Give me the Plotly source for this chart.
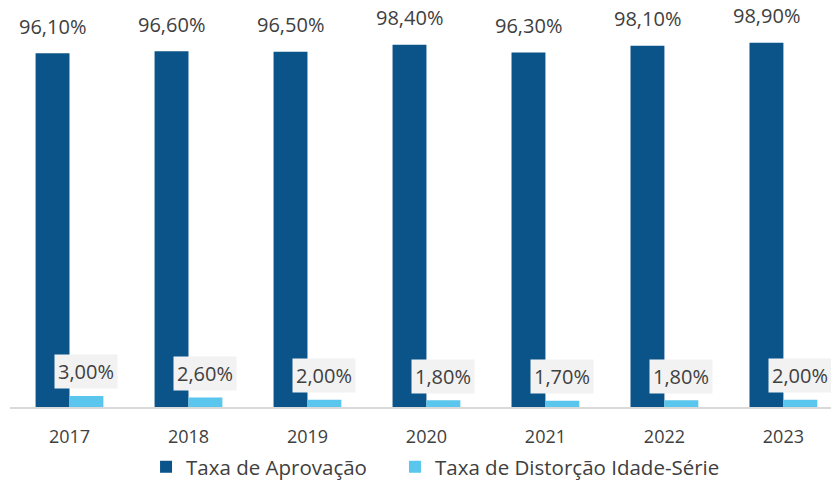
import plotly.graph_objects as go

years = ["2017", "2018", "2019", "2020", "2021", "2022", "2023"]
aprovacao = [96.1, 96.6, 96.5, 98.4, 96.3, 98.1, 98.9]
distorcao = [3.0, 2.6, 2.0, 1.8, 1.7, 1.8, 2.0]
name_a = "Taxa de Aprovação"
name_d = "Taxa de Distorção Idade-Série"

DARK = "#0B548A"
LIGHT = "#5BC6ED"
TXT = "#404040"

def fmt(v):
    return f"{v:.2f}".replace(".", ",") + "%"

fig = go.Figure()
fig.add_trace(go.Bar(x=years, y=aprovacao, name=name_a, marker_color=DARK,
                     marker_line_width=0, legend="legend"))
fig.add_trace(go.Bar(x=years, y=distorcao, name=name_d, marker_color=LIGHT,
                     marker_line_width=0, legend="legend2"))

annotations = []
for i, (a, d) in enumerate(zip(aprovacao, distorcao)):
    annotations.append(dict(x=i, y=a, xref="x", yref="y", text=fmt(a),
                            showarrow=False, xshift=-17, yshift=27,
                            yanchor="middle", font=dict(size=20, color=TXT,
                                                        family="Open Sans")))
    annotations.append(dict(x=i, y=d, xref="x", yref="y", text=fmt(d),
                            showarrow=False, xshift=17, yshift=24,
                            yanchor="middle", bgcolor="#F2F2F2",
                            borderpad=3,
                            font=dict(size=20, color=TXT, family="Open Sans")))

leg_common = dict(orientation="h", xanchor="left", y=-0.148, yanchor="middle",
                  font=dict(size=20.5, color=TXT), itemwidth=30,
                  itemsizing="constant", bgcolor="rgba(0,0,0,0)")

fig.update_layout(
    width=831, height=484,
    margin=dict(l=10, r=0, t=2, b=77, autoexpand=False),
    paper_bgcolor="white", plot_bgcolor="white",
    barmode="group", bargap=0.43, bargroupgap=0,
    font=dict(family="Open Sans", color=TXT),
    showlegend=True,
    legend=dict(x=0.1657, **leg_common),
    legend2=dict(x=0.4689, **leg_common),
    annotations=annotations,
    xaxis=dict(type="category", range=[-0.5, 6.4], showgrid=False,
               showline=True, linecolor="#D9D9D9", linewidth=2,
               ticks="", ticklabelstandoff=12,
               tickfont=dict(size=18, color=TXT)),
    yaxis=dict(range=[0, 110], visible=False, showgrid=False),
)

fig.write_html("out.html", config={"displayModeBar": False},
               post_script="document.body.style.margin='0';")
